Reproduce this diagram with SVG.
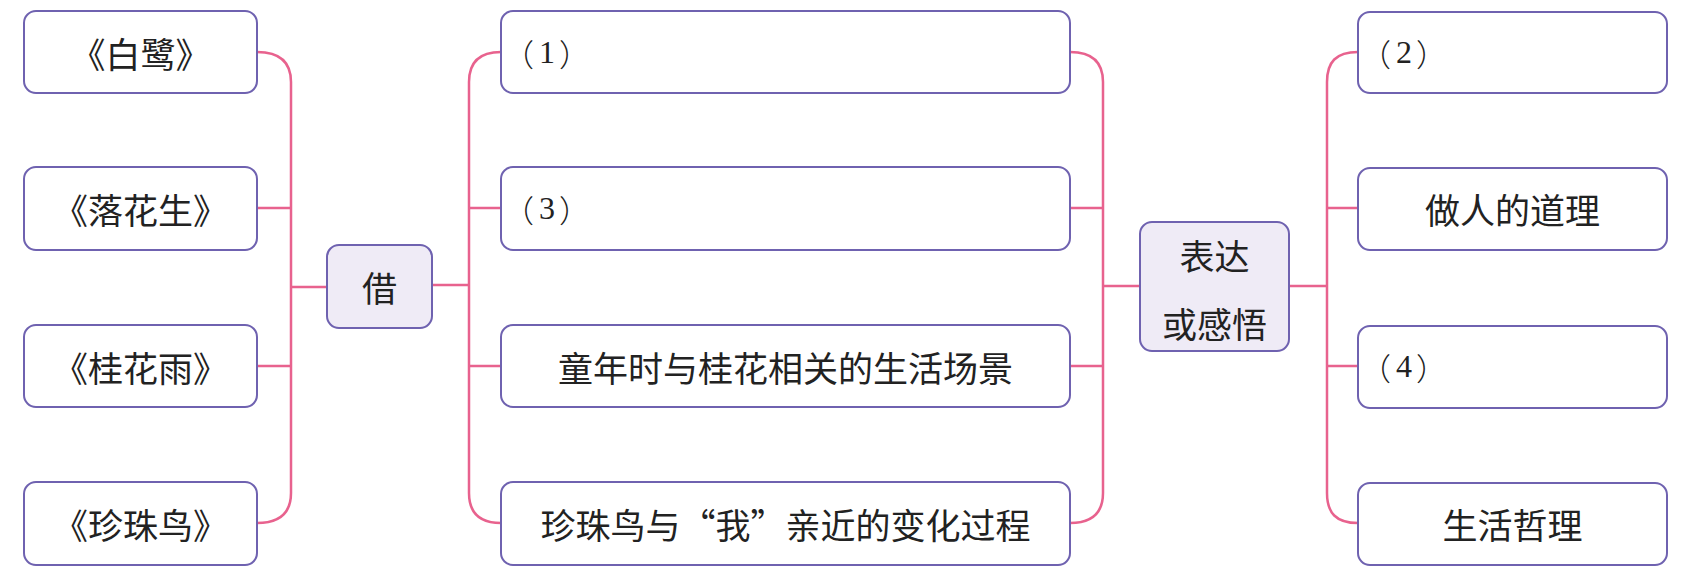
<svg xmlns="http://www.w3.org/2000/svg" width="1690" height="578" viewBox="0 0 1690 578">
<style>
.box{fill:#ffffff;stroke:#6f62b0;stroke-width:2}
.hub{fill:#efebf6;stroke:#6f62b0;stroke-width:2}
.con{fill:none;stroke:#e8628e;stroke-width:2.5}
.t{font-family:"Noto Sans CJK SC","Noto Sans",sans-serif;font-size:35px;fill:#222;text-anchor:middle;dominant-baseline:central}
.p{font-family:"Noto Sans CJK SC",sans-serif;font-size:31px;font-weight:300;fill:#222;dominant-baseline:central}
.d{font-family:"Liberation Serif",serif;font-size:32px;font-weight:400}
</style>
<rect width="1690" height="578" fill="#ffffff"/>
<g id="connectors">
<path class="con" d="M257,52 C279,52 291,62 291,82 V493 C291,513 279,523 257,523"/>
<path class="con" d="M257,208 H291 M257,366 H291 M291,287 H327"/>
<path class="con" d="M432,285 H469"/>
<path class="con" d="M501,52 C479,52 469,62 469,82 V493 C469,513 479,523 501,523"/>
<path class="con" d="M469,208 H501 M469,366 H501"/>
<path class="con" d="M1070,52 C1092,52 1103,62 1103,82 V493 C1103,513 1092,523 1070,523"/>
<path class="con" d="M1070,208 H1103 M1070,366 H1103 M1103,286 H1140"/>
<path class="con" d="M1289,286 H1327"/>
<path class="con" d="M1358,52 C1336,52 1327,62 1327,82 V493 C1327,513 1336,523 1358,523"/>
<path class="con" d="M1327,208 H1358 M1327,366 H1358"/>
</g>
<g id="n-bailu"><rect class="box" x="24" y="11" width="233" height="82" rx="12"/><text class="t" x="140.5" y="52">《白鹭》</text></g>
<g id="n-luohuasheng"><rect class="box" x="24" y="167" width="233" height="83" rx="12"/><text class="t" x="140.5" y="208">《落花生》</text></g>
<g id="n-guihuayu"><rect class="box" x="24" y="325" width="233" height="82" rx="12"/><text class="t" x="140.5" y="366">《桂花雨》</text></g>
<g id="n-zhenzhuniao"><rect class="box" x="24" y="482" width="233" height="83" rx="12"/><text class="t" x="140.5" y="523">《珍珠鸟》</text></g>
<g id="n-jie"><rect class="hub" x="327" y="245" width="105" height="83" rx="12"/><text class="t" x="379.5" y="286">借</text></g>
<g id="n-m1"><rect class="box" x="501" y="11" width="569" height="82" rx="12"/><text class="p" x="503" y="52">（<tspan class="d" dx="5">1</tspan><tspan dx="4">）</tspan></text></g>
<g id="n-m3"><rect class="box" x="501" y="167" width="569" height="83" rx="12"/><text class="p" x="503" y="208">（<tspan class="d" dx="5">3</tspan><tspan dx="4">）</tspan></text></g>
<g id="n-m-tongnian"><rect class="box" x="501" y="325" width="569" height="82" rx="12"/><text class="t" x="785.5" y="366">童年时与桂花相关的生活场景</text></g>
<g id="n-m-zhenzhu"><rect class="box" x="501" y="482" width="569" height="83" rx="12"/><text class="t" x="785.5" y="523">珍珠鸟与“我”亲近的变化过程</text></g>
<g id="n-biaoda"><rect class="hub" x="1140" y="222" width="149" height="129" rx="12"/><text class="t" x="1214.5" y="254">表达</text><text class="t" x="1214.5" y="322">或感悟</text></g>
<g id="n-r2"><rect class="box" x="1358" y="12" width="309" height="81" rx="12"/><text class="p" x="1360" y="52">（<tspan class="d" dx="5">2</tspan><tspan dx="4">）</tspan></text></g>
<g id="n-r-zuoren"><rect class="box" x="1358" y="168" width="309" height="82" rx="12"/><text class="t" x="1512.5" y="208">做人的道理</text></g>
<g id="n-r4"><rect class="box" x="1358" y="326" width="309" height="82" rx="12"/><text class="p" x="1360" y="366">（<tspan class="d" dx="5">4</tspan><tspan dx="4">）</tspan></text></g>
<g id="n-r-shenghuo"><rect class="box" x="1358" y="483" width="309" height="82" rx="12"/><text class="t" x="1512.5" y="523">生活哲理</text></g>
</svg>
